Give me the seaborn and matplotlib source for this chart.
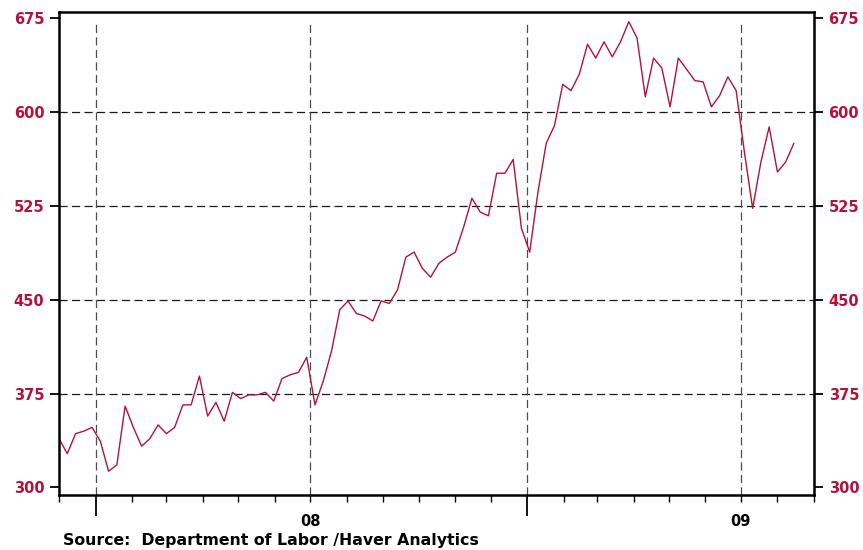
import matplotlib
matplotlib.use("Agg")
import matplotlib.pyplot as plt
import matplotlib.dates as mdates
import matplotlib.ticker as mticker
import pandas as pd
import seaborn as sns

# weekly initial jobless claims, thousands (week ending Saturdays)
week_start = "2007-12-01"
claims = [
    339, 327, 343, 345, 348, 337, 313, 318, 365, 348,
    333, 339, 350, 343, 348, 366, 366, 389, 357, 368,
    353, 376, 371, 374, 374, 376, 369, 387, 390, 392,
    404, 366,
    385, 409, 442, 449, 439, 437, 433, 449, 447, 458,
    484, 488, 475, 468, 479, 484, 488, 508, 531, 520,
    517, 551, 551, 562, 507, 488, 536, 575, 589, 622,
    617,
    630, 654, 643, 656, 644, 656, 672, 659, 612, 643,
    635, 604, 643, 634, 625, 624, 604, 613, 628, 617,
    568, 523, 560, 588, 552, 560, 575,
]
y_ticks = [300, 375, 450, 525, 600, 675]
grid_y = [375, 450, 525, 600]
grid_dates = ["2008-01-01", "2008-07-01", "2009-01-01", "2009-07-01"]
year_ticks = ["2008-01-01", "2009-01-01"]
x_range = ["2007-12-01", "2009-09-01"]
source_text = "Source:  Department of Labor /Haver Analytics"

RED = "#b3123c"

df = pd.DataFrame({
    "date": pd.date_range(week_start, periods=len(claims), freq="7D"),
    "claims": claims,
})

sns.set_style("ticks")
plt.rcParams["font.family"] = ["DejaVu Sans"]
plt.rcParams["font.weight"] = "bold"

fig = plt.figure(figsize=(8.63, 5.5), dpi=100)
ax = fig.add_axes([0.0684, 0.1, 0.9432 - 0.0684, 0.9773 - 0.1])

sns.lineplot(data=df, x="date", y="claims", ax=ax, color=RED, linewidth=1.0)

ax.set_xlim(pd.Timestamp(x_range[0]), pd.Timestamp(x_range[1]))
ax.set_ylim(294.0, 679.4)

# dashed grid
for gy in grid_y:
    ax.axhline(gy, color="#1a1a1a", linewidth=0.9, linestyle=(0, (6.5, 3.5)), zorder=1)
ax.vlines(pd.to_datetime(grid_dates), 294.0, 673, color="#4d4d4d",
          linewidth=0.9, linestyles=[(0, (6.5, 3.5))], zorder=1)

# y axis on both sides
ax.set_yticks(y_ticks)
ax.tick_params(axis="y", which="both", left=True, right=True, labelleft=True, labelright=True,
               direction="out", length=6.5, width=1.3, pad=4, labelsize=10.5,
               labelcolor=RED, color="black")
for lbl in ax.get_yticklabels():
    lbl.set_fontweight("bold")

# x axis: long ticks at year start, monthly minor ticks, labels at mid-year
ax.xaxis.set_major_locator(mticker.FixedLocator(mdates.date2num(pd.to_datetime(year_ticks))))
ax.xaxis.set_major_formatter(mticker.NullFormatter())
ax.xaxis.set_minor_locator(mdates.MonthLocator())


def mid_year_label(x, pos):
    d = mdates.num2date(x)
    return d.strftime("%y") if d.month == 7 else ""


ax.xaxis.set_minor_formatter(mticker.FuncFormatter(mid_year_label))
ax.tick_params(axis="x", which="major", direction="out", length=15, width=1.3, color="black")
ax.tick_params(axis="x", which="minor", direction="out", length=5, width=1.0, color="black",
               pad=9, labelsize=10.5, labelcolor="black")
for lbl in ax.get_xticklabels(minor=True):
    lbl.set_fontweight("bold")

for side in ["left", "right", "top", "bottom"]:
    ax.spines[side].set_visible(True)
    ax.spines[side].set_linewidth(1.8)
    ax.spines[side].set_color("black")

ax.set_xlabel("")
ax.set_ylabel("")

fig.text(0.0727, 0.018, source_text, ha="left", va="center", fontsize=11.3,
         fontweight="bold", color="black")

fig.savefig("out.png", dpi=100)
